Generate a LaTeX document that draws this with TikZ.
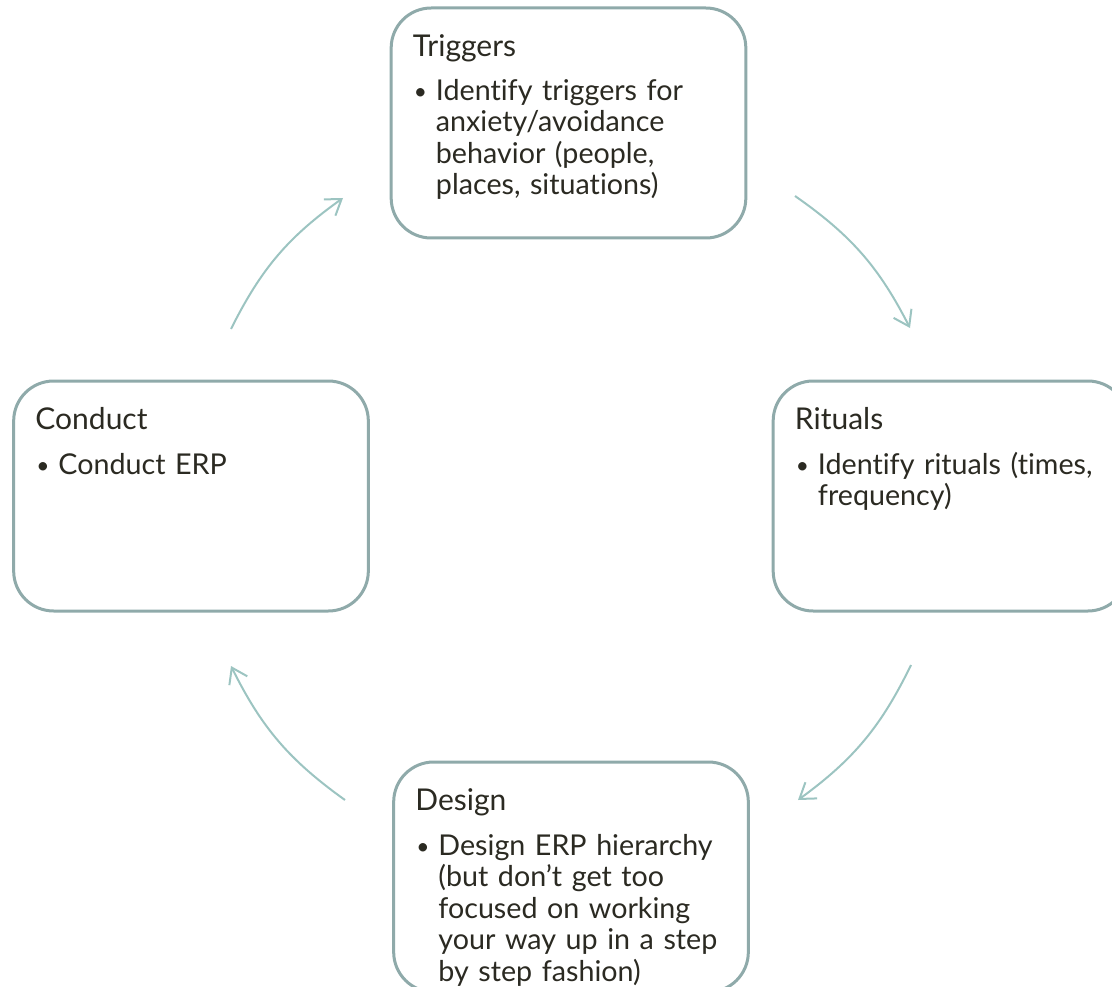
\documentclass[tikz,border=0pt]{standalone}
\usepackage{fontspec}
\setmainfont{Lato}[Ligatures={NoCommon}]
\usetikzlibrary{arrows.meta,calc}
\definecolor{boxline}{HTML}{8FAAAA}
\definecolor{arrowline}{HTML}{9CC4C1}
\definecolor{ink}{HTML}{2B2A22}

\tikzset{
  stage/.style={draw=boxline, line width=2.25pt, rounded corners=30pt,
    minimum width=266pt, minimum height=172.5pt, inner sep=0pt, fill=white},
  heading/.style={anchor=base west, inner sep=0pt, text=ink,
    font=\fontsize{22.5}{23.6}\selectfont},
  bullet/.style={anchor=base west, inner sep=0pt, text=ink,
    font=\fontsize{17}{23.6}\selectfont},
  bodytext/.style={anchor=base west, inner sep=0pt, text=ink, align=left,
    text width=250pt, font=\fontsize{21.5}{23.6}\selectfont},
  cycle/.style={draw=arrowline, line width=1.5pt,
    -{Straight Barb[length=11pt,width=15pt]}}
}

\begin{document}
\begin{tikzpicture}[x=0.75pt,y=-0.75pt]
  \useasboundingbox (0,0) rectangle (1112,987);

  % the four stages of the cycle
  \node[stage] (trig) at (568.5,123) {};
  \node[stage] (ritu) at (950.5,496) {};
  \node[stage] (desi) at (571,877) {};
  \node[stage] (cond) at (191,496) {};

  % Triggers
  \node[heading] (trig-h) at ($(trig.north west)+(23,50)$) {Triggers};
  \node[bullet] (trig-b) at ($(trig.north west)+(24,93)$) {•};
  \node[bodytext] (trig-t) at ($(trig.north west)+(46,94)$)
    {Identify triggers for\\anxiety/avoidance\\behavior (people,\\places, situations)};

  % Rituals
  \node[heading] (ritu-h) at ($(ritu.north west)+(23,50)$) {Rituals};
  \node[bullet] (ritu-b) at ($(ritu.north west)+(24,94)$) {•};
  \node[bodytext] (ritu-t) at ($(ritu.north west)+(46,95)$)
    {Identify rituals (times,\\frequency)};

  % Design
  \node[heading] (desi-h) at ($(desi.north west)+(23,50)$) {Design};
  \node[bullet] (desi-b) at ($(desi.north west)+(24,94)$) {•};
  \node[bodytext] (desi-t) at ($(desi.north west)+(46,95)$)
    {Design ERP hierarchy\\(but don’t get too\\focused on working\\your way up in a step\\by step fashion)};

  % Conduct
  \node[heading] (cond-h) at ($(cond.north west)+(23,50)$) {Conduct};
  \node[bullet] (cond-b) at ($(cond.north west)+(24,94)$) {•};
  \node[bodytext] (cond-t) at ($(cond.north west)+(46,95)$) {Conduct ERP};

  % curved arrows between the stages
  \coordinate (a1s) at (795,196);  \coordinate (a1e) at (910,328);
  \coordinate (a2s) at (911,665);  \coordinate (a2e) at (798,800);
  \coordinate (a3s) at (345,800);  \coordinate (a3e) at (231,666);
  \coordinate (a4s) at (231,329);  \coordinate (a4e) at (343,198);
  \draw[cycle] (a1s) to[bend left=14] (a1e);
  \draw[cycle] (a2s) to[bend left=14] (a2e);
  \draw[cycle] (a3s) to[bend left=14] (a3e);
  \draw[cycle] (a4s) to[bend left=14] (a4e);
\end{tikzpicture}
\end{document}
